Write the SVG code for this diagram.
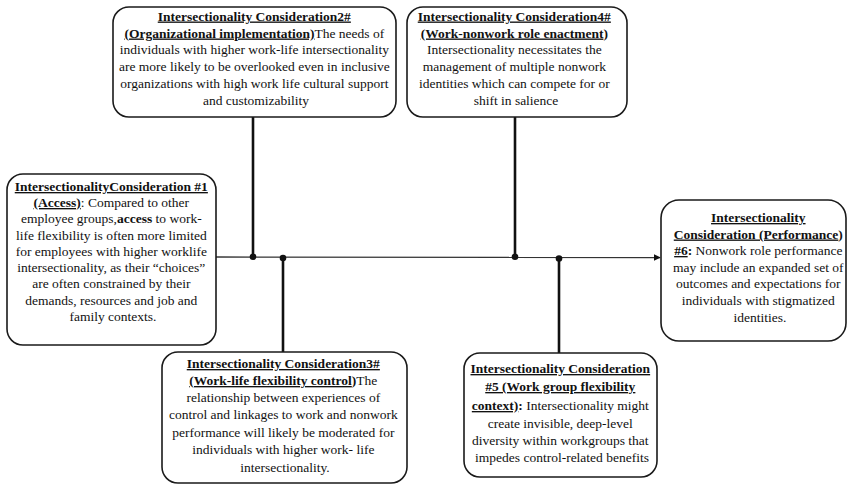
<svg xmlns="http://www.w3.org/2000/svg" width="847" height="485" viewBox="0 0 847 485">
<defs>
<style>
.box{fill:#fff;stroke:#1a1a1a;stroke-width:1.6}
.t{font-family:"Liberation Serif","Times New Roman",serif;font-size:13.5px;fill:#111;text-anchor:middle}
.b{font-weight:bold}
.u{text-decoration:underline}
.vline{stroke:#111;stroke-width:2.6;fill:none}
.hline{stroke:#333;stroke-width:1.3;fill:none}
.dot{fill:#111}
</style>
<marker id="arr" viewBox="0 0 10 10" refX="9" refY="5" markerWidth="7" markerHeight="7" markerUnits="userSpaceOnUse" orient="auto">
<path d="M0,0 L10,5 L0,10 z" fill="#111"/>
</marker>
</defs>
<rect width="847" height="485" fill="#fff"/>

<g id="connectors">
<line class="hline" x1="216" y1="257" x2="660" y2="257.5" marker-end="url(#arr)"/>
<line class="vline" x1="253" y1="117" x2="253" y2="257"/>
<line class="vline" x1="515" y1="117" x2="515" y2="257"/>
<line class="vline" x1="283" y1="258" x2="283" y2="352"/>
<line class="vline" x1="559" y1="258" x2="559" y2="353"/>
<circle class="dot" cx="253" cy="256.8" r="3.3"/>
<circle class="dot" cx="283" cy="258" r="3.3"/>
<circle class="dot" cx="515" cy="256.8" r="3.3"/>
<circle class="dot" cx="559" cy="258.5" r="3.3"/>
</g>

<g id="node1">
<rect class="box" x="7" y="174" width="209" height="171" rx="16"/>
<text class="t">
<tspan x="113" y="191" class="b u">IntersectionalityConsideration #1</tspan>
<tspan x="113" y="207"><tspan class="b u">(Access)</tspan>:  Compared to other</tspan>
<tspan x="113" y="223">employee groups,<tspan class="b">access</tspan> to work-</tspan>
<tspan x="113" y="240">life flexibility is often more limited</tspan>
<tspan x="113" y="256">for employees with higher worklife</tspan>
<tspan x="113" y="272">intersectionality, as their “choices”</tspan>
<tspan x="113" y="288">are often constrained by their</tspan>
<tspan x="113" y="305">demands, resources and job and</tspan>
<tspan x="113" y="321">family contexts.</tspan>
</text>
</g>

<g id="node2">
<rect class="box" x="113" y="7" width="283" height="110" rx="16"/>
<text class="t">
<tspan x="256" y="20.5" class="b u">Intersectionality Consideration2#</tspan>
<tspan x="256" y="37.5"><tspan class="b u">(Organizational implementation)</tspan>The needs of</tspan>
<tspan x="256" y="54">individuals with higher work-life intersectionality</tspan>
<tspan x="256" y="71">are more likely to be overlooked even in inclusive</tspan>
<tspan x="256" y="87.5">organizations with high work life cultural support</tspan>
<tspan x="256" y="104.5">and customizability</tspan>
</text>
</g>

<g id="node3">
<rect class="box" x="162" y="352" width="245" height="131" rx="16"/>
<text class="t">
<tspan x="285" y="368" class="b u">Intersectionality Consideration3#</tspan>
<tspan x="285" y="385"><tspan class="b u">(Work-life flexibility control</tspan><tspan class="b">)</tspan>The</tspan>
<tspan x="285" y="402">relationship between experiences of</tspan>
<tspan x="285" y="419">control and linkages to work and nonwork</tspan>
<tspan x="285" y="437">performance will likely be moderated for</tspan>
<tspan x="285" y="454">individuals with higher work- life</tspan>
<tspan x="285" y="472">intersectionality.</tspan>
</text>
</g>

<g id="node4">
<rect class="box" x="407" y="7" width="220" height="110" rx="16"/>
<text class="t">
<tspan x="516" y="20.5" class="b u">Intersectionality Consideration4#</tspan>
<tspan x="516" y="37.5"><tspan class="b u">(Work-nonwork role enactment</tspan><tspan class="b">)</tspan></tspan>
<tspan x="516" y="54">Intersectionality necessitates the</tspan>
<tspan x="516" y="71">management of multiple nonwork</tspan>
<tspan x="516" y="87.5">identities which can compete for or</tspan>
<tspan x="516" y="104.5">shift in salience</tspan>
</text>
</g>

<g id="node5">
<rect class="box" x="464" y="353" width="193" height="124" rx="16"/>
<text class="t">
<tspan x="562" y="373" class="b u">Intersectionality Consideration</tspan>
<tspan x="562" y="391" class="b u">#5 (Work group flexibility</tspan>
<tspan x="562" y="410"><tspan class="b u">context)</tspan><tspan class="b">:</tspan> Intersectionality might</tspan>
<tspan x="562" y="428">create invisible, deep-level</tspan>
<tspan x="562" y="445">diversity within workgroups that</tspan>
<tspan x="562" y="462">impedes control-related benefits</tspan>
</text>
</g>

<g id="node6">
<rect class="box" x="661" y="200" width="185" height="141" rx="18"/>
<text class="t">
<tspan x="760" y="222" class="b u">Intersectionality</tspan>
<tspan x="760" y="238.5"><tspan class="b u">Consideration (Performance</tspan><tspan class="b">)</tspan></tspan>
<tspan x="760" y="255"><tspan class="b u">#6</tspan><tspan class="b">:</tspan> Nonwork role performance</tspan>
<tspan x="760" y="271.5">may include an expanded set of</tspan>
<tspan x="760" y="288">outcomes and expectations for</tspan>
<tspan x="760" y="304.5">individuals with stigmatized</tspan>
<tspan x="760" y="322">identities.</tspan>
</text>
</g>
</svg>
